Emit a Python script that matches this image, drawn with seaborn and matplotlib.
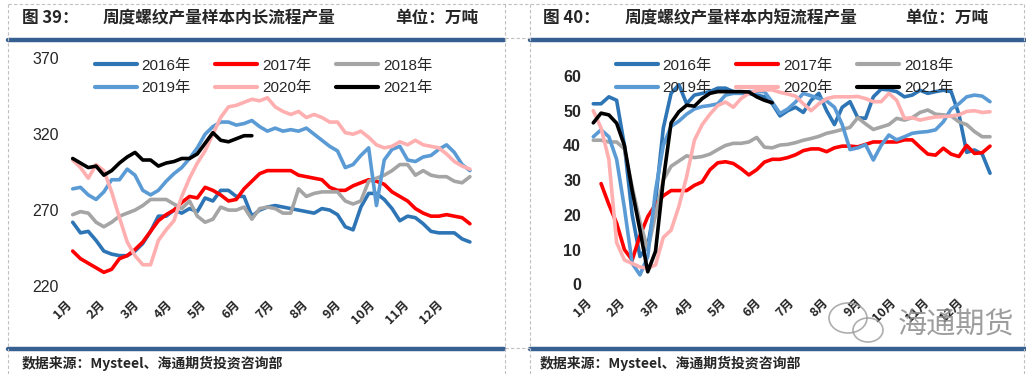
import numpy as np
import pandas as pd
import matplotlib
matplotlib.use("Agg")
import matplotlib.pyplot as plt
import seaborn as sns
from matplotlib.lines import Line2D
from matplotlib.patches import Ellipse

# figure size in pixels (dpi 100)
W, H = 1026, 374

years = ["2016年", "2017年", "2018年", "2019年", "2020年", "2021年"]
colors = ["#2E75B6", "#FF0000", "#A5A5A5", "#5B9BD5", "#FFAFAF", "#000000"]
months = ["%d月" % m for m in range(1, 13)]

# weekly output inside the long-process sample (万吨)
long_2016 = [262, 255, 256, 250, 243, 241, 240, 240, 243, 248,
             256, 266, 266, 270, 268, 271, 269, 278, 276, 283,
             283, 279, 279, 266, 270, 272, 273, 272, 271, 270,
             269, 268, 271, 270, 267, 259, 257, 272, 281, 281,
             277, 271, 263, 266, 265, 261, 256, 255, 255, 255,
             251, 249]
long_2017 = [243, 238, 235, 232, 229, 231, 238, 240, 244, 249,
             256, 263, 267, 270, 275, 279, 278, 285, 283, 280,
             276, 277, 284, 289, 294, 296, 296, 296, 296, 293,
             292, 291, 290, 285, 283, 283, 286, 288, 290, 289,
             287, 282, 279, 276, 271, 268, 266, 266, 267, 266,
             265, 261]
long_2018 = [267, 269, 268, 262, 259, 262, 266, 268, 270, 273,
             277, 277, 277, 274, 271, 276, 266, 262, 264, 272,
             270, 270, 272, 264, 271, 272, 271, 268, 268, 284,
             279, 281, 282, 282, 282, 276, 274, 276, 289, 291,
             293, 296, 300, 300, 293, 296, 293, 292, 292, 289,
             288, 292]
long_2019 = [284, 285, 280, 277, 282, 290, 290, 297, 293, 283,
             280, 283, 289, 294, 298, 304, 311, 320, 325, 328,
             328, 326, 327, 329, 325, 322, 324, 322, 323, 322,
             324, 320, 316, 312, 309, 298, 300, 306, 311, 273,
             303, 310, 312, 303, 302, 305, 306, 310, 313, 308,
             300, 296]
long_2020 = [303, 298, 291, 300, 296, 282, 265, 249, 240, 234,
             234, 250, 257, 263, 279, 291, 301, 309, 320, 331,
             338, 339, 341, 343, 342, 344, 338, 335, 333, 335,
             331, 333, 331, 328, 328, 321, 320, 322, 318, 313,
             311, 312, 315, 313, 316, 313, 312, 311, 307, 302,
             299, 297]
long_2021 = [304, 301, 298, 299, 293, 296, 301, 305, 308, 303,
             303, 299, 301, 302, 304, 304, 307, 314, 321, 316,
             315, 317, 319, 319]

# weekly output inside the short-process sample (万吨)
short_2016 = [52, 52, 54, 53, 40, 20, 8, 11, 24, 45,
              55, 57.5, 52, 54.5, 55, 55.5, 56.5, 56.5, 55.5, 55,
              55, 54.5, 54, 52, 48.5, 50, 51, 49.5, 53, 55,
              50, 46, 51, 52.6, 48, 47.8, 54, 56.2, 56, 55.5,
              54, 54.5, 55.9, 55, 55.5, 55.9, 55.5, 49, 38, 38.7,
              37.5, 32]
short_2017 = [np.nan, 29, 23, 17.6, 10, 7, 14, 19.5, 23, 25.5,
              27, 27, 27, 28.5, 29.5, 33, 35, 35.3, 34.8, 33.3,
              31.5, 33, 35.2, 36, 36, 36.5, 37.3, 38.5, 39, 39,
              38.2, 39.3, 39.8, 39.8, 39.6, 40.3, 41, 41, 41, 41,
              41.6, 41.6, 39.5, 37.5, 37.2, 39.2, 37.5, 36.8, 40, 37.7,
              37.9, 39.8]
short_2018 = [41.5, 41.5, 41, 41, 39, 28, 18, 10, 20, 30,
              34, 35.5, 37, 36.5, 36.8, 37.5, 38.8, 40, 40.6, 40.6,
              41, 42.3, 39.5, 39.3, 40.1, 40.3, 40.8, 41.5, 42, 42.6,
              43.5, 44, 44.6, 45.2, 48, 46.2, 44.6, 45.3, 46, 47.8,
              47.3, 48, 49.5, 50.2, 49, 48.8, 48.5, 46.8, 46, 44,
              42.5, 42.5]
short_2019 = [42.5, 44.5, 42.5, 36, 22, 6, 2.7, 8, 27, 40,
              45.5, 47, 49, 50.5, 51.2, 51.5, 52, 54.5, 55, 55,
              55.5, 55.5, 55.5, 52.5, 49.2, 50.5, 52.5, 55, 54.3, 53.5,
              52.8, 51, 46, 38.8, 39.3, 40.2, 35.8, 40, 43, 41.6,
              42.5, 43.5, 43.8, 44, 44.5, 46.8, 50.5, 52, 54, 54.5,
              54.2, 52.6]
short_2020 = [50, 45, 36, 12, 7, 6, 5, 4.6, 5.6, 13.5,
              15.6, 22.4, 31, 41.5, 46, 49, 51.5, 52.5, 51, 53.5,
              55, 55.8, 56, 56, 55.3, 54.8, 54.2, 52, 50, 52,
              53.5, 54, 54, 54, 54.1, 53.5, 52.6, 52.6, 55, 53,
              47.8, 48, 47.3, 47.8, 48.2, 48.3, 48.5, 48.8, 49.8, 50,
              49.5, 49.7]
short_2021 = [46.5, 49.3, 48.8, 46.4, 40, 27, 15.6, 3.6, 9.5, 30,
              46.5, 49.7, 51.6, 51.3, 53.5, 55, 55.5, 55.5, 55.5, 55.5,
              55.4, 54, 53, 52.3]


def to_frame(series):
    rows = []
    for year, vals in zip(years, series):
        for wk, v in enumerate(vals):
            if not np.isnan(v):
                rows.append((wk, v, year))
    return pd.DataFrame(rows, columns=["week", "value", "year"])


def fx(px):
    return px / W


def fy(py):
    return 1 - py / H


sns.set_style("white")
plt.rcParams["font.family"] = ["Liberation Sans", "Noto Sans CJK SC"]

fig = plt.figure(figsize=(W / 100, H / 100), dpi=100)
palette = dict(zip(years, colors))
month_pos = np.arange(12) * 52 / 12 - 0.4


def draw_panel(rect, df, ylim, yticks, yweight, ypad):
    ax = fig.add_axes(rect)
    sns.lineplot(data=df, x="week", y="value", hue="year", hue_order=years,
                 palette=palette, linewidth=2.6, legend=False, ax=ax)
    ax.set_xlim(-0.5, 51.5)
    ax.set_ylim(*ylim)
    ax.set_yticks(yticks)
    ax.set_yticklabels([str(t) for t in yticks], fontsize=11.5,
                       fontweight=yweight, family=["Liberation Sans"])
    ax.set_xticks(month_pos)
    ax.set_xticklabels(months, rotation=45, ha="right", va="center",
                       rotation_mode="anchor", fontsize=9, fontweight="bold",
                       family=["Noto Sans CJK SC"])
    ax.tick_params(axis="y", length=0, pad=ypad)
    ax.tick_params(axis="x", length=0, pad=12)
    for s in ax.spines.values():
        s.set_visible(False)
    ax.set_xlabel("")
    ax.set_ylabel("")
    ax.patch.set_alpha(0)
    return ax


# left panel: long process
draw_panel([fx(68.8), fy(286), fx(405), (286 - 58.3) / H],
           to_frame([long_2016, long_2017, long_2018, long_2019, long_2020, long_2021]),
           (220, 370), [220, 270, 320, 370], "normal", 7)
# right panel: short process
draw_panel([fx(589.4), fy(284.3), fx(404.5), (284.3 - 76) / H],
           to_frame([short_2016, short_2017, short_2018, short_2019, short_2020, short_2021]),
           (0, 60), [0, 10, 20, 30, 40, 50, 60], "bold", 6)

# legends, row-wise order like the original
order = [0, 3, 1, 4, 2, 5]
handles = [Line2D([], [], color=colors[i], lw=3) for i in order]
labels = [years[i] for i in order]
for x0 in (87, 608):
    fig.legend(handles, labels, ncol=3, loc="center left",
               bbox_to_anchor=(fx(x0), fy(77)), frameon=False, borderpad=0,
               fontsize=11, handlelength=2.75, handletextpad=0.33,
               columnspacing=1.6, labelspacing=0.55)

# titles
tfont = dict(family=["Noto Sans CJK SC"], fontweight="bold", fontsize=12,
             va="center", ha="left")
fig.text(fx(22), fy(18), "图 39：", **tfont)
fig.text(fx(103), fy(18), "周度螺纹产量样本内长流程产量", **tfont)
fig.text(fx(395), fy(18), "单位：万吨", **tfont)
fig.text(fx(543), fy(18), "图 40：", **tfont)
fig.text(fx(625), fy(18), "周度螺纹产量样本内短流程产量", **tfont)
fig.text(fx(905), fy(18), "单位：万吨", **tfont)

# sources
sfont = dict(family=["Noto Sans CJK SC"], fontweight="bold", fontsize=10,
             va="center", ha="left")
fig.text(fx(22), fy(363), "数据来源：Mysteel、海通期货投资咨询部", **sfont)
fig.text(fx(540), fy(363), "数据来源：Mysteel、海通期货投资咨询部", **sfont)

# blue rules
bar = "#376092"
for xa, xb in ((8, 504), (530, 1025)):
    for yy in (39.7, 349):
        fig.add_artist(Line2D([fx(xa), fx(xb)], [fy(yy), fy(yy)], color=bar, lw=3.2))

# dashed cell borders
dash = dict(color="#C0C0C0", lw=0.8, ls=(0, (3, 2)))
for xx in (8, 505, 530, 1024):
    fig.add_artist(Line2D([fx(xx), fx(xx)], [fy(4), fy(374)], **dash))
fig.add_artist(Line2D([fx(8), fx(1024)], [fy(4), fy(4)], **dash))
for yy in (38, 348):
    fig.add_artist(Line2D([fx(505), fx(530)], [fy(yy), fy(yy)], **dash))

# watermark: chat-bubble icon + name
wm = "#9A9A9A"
fig.add_artist(Ellipse((fx(848), fy(318)), 38 / W, 30 / H, transform=fig.transFigure,
                       fill=False, ec=wm, lw=1.2, alpha=0.8))
fig.add_artist(Ellipse((fx(868), fy(330)), 30 / W, 24 / H, transform=fig.transFigure,
                       fill=False, ec=wm, lw=1.2, alpha=0.8))
fig.text(fx(956), fy(326), "海通期货", family=["Noto Sans CJK SC"], fontsize=21,
         color="#8C8C8C", alpha=0.85, ha="center", va="center")

fig.savefig("out.png", dpi=100)
